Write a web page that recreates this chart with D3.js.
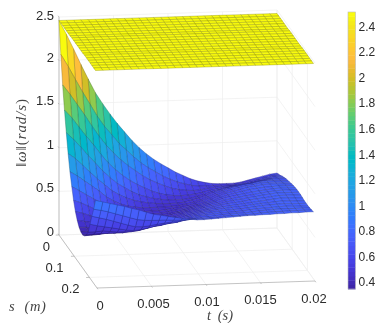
<!DOCTYPE html>
<html><head><meta charset="utf-8">
<style>html,body{margin:0;padding:0;background:#fff}svg{display:block;filter:blur(0.3px)}
text{font-family:"Liberation Sans",Arial,sans-serif;fill:#2b2b2b}
.m{font-family:"Liberation Serif",serif;font-style:italic;fill:#444}</style>
<script src="https://cdn.jsdelivr.net/npm/d3@7"></script></head><body>
<script>
const tTicks=[0,0.005,0.01,0.015,0.02];
const sTicks=[0,0.1,0.2];
const zTicks=[0,0.5,1,1.5,2,2.5];
const cbTicks=[0.4,0.6,0.8,1,1.2,1.4,1.6,1.8,2,2.2,2.4];
const cbTickLabels=["0.4","0.6","0.8","1","1.2","1.4","1.6","1.8","2","2.2","2.4"];
const tGrid=[0,0.00067,0.00133,0.002,0.00267,0.00333,0.004,0.00467,0.00533,0.006,0.00667,0.00733,0.008,0.00867,0.00933,0.01,0.01067,0.01133,0.012,0.01267,0.01333,0.014,0.01467,0.01533,0.016,0.01667,0.01733,0.018,0.01867,0.01933,0.02];
const sGrid=[0,0.012,0.024,0.036,0.048,0.06,0.072,0.084,0.096,0.108,0.12,0.132,0.144,0.156,0.168,0.18,0.192,0.204,0.216,0.228,0.24];
const upperSheet=[2.46,2.46,2.46,2.46,2.46,2.46,2.46,2.465,2.465,2.465,2.465,2.465,2.465,2.465,2.47,2.47,2.47,2.47,2.47,2.47,2.47];
// lower sheet: one row per s, one value per t
const lowerSheet=[
[2.46,2.30,2.13,1.95,1.78,1.62,1.49,1.37,1.26,1.16,1.06,.975,.90,.835,.78,.73,.68,.64,.60,.57,.55,.535,.53,.53,.53,.54,.56,.58,.60,.62,.63],
[2.10,1.96,1.81,1.66,1.52,1.38,1.26,1.16,1.06,.98,.90,.83,.77,.72,.67,.63,.595,.57,.55,.54,.535,.54,.54,.54,.545,.555,.575,.595,.615,.635,.645],
[1.78,1.67,1.55,1.43,1.30,1.18,1.07,.98,.90,.83,.77,.71,.66,.62,.585,.555,.535,.525,.52,.525,.54,.55,.555,.56,.565,.575,.595,.615,.635,.655,.66],
[1.52,1.43,1.32,1.21,1.11,1.00,.90,.82,.75,.69,.64,.60,.56,.53,.51,.50,.495,.50,.51,.525,.545,.56,.575,.585,.59,.60,.62,.64,.66,.68,.68],
[1.29,1.21,1.12,1.02,.93,.84,.76,.69,.64,.59,.55,.525,.505,.49,.48,.48,.48,.49,.51,.53,.56,.58,.60,.615,.625,.635,.655,.67,.685,.695,.695],
[1.08,1.02,.94,.86,.78,.71,.64,.59,.55,.52,.50,.485,.475,.47,.47,.47,.48,.50,.52,.545,.58,.605,.63,.645,.66,.67,.69,.70,.71,.71,.71],
[.90,.85,.79,.73,.67,.60,.55,.51,.485,.47,.46,.46,.46,.46,.465,.47,.485,.505,.53,.56,.595,.625,.65,.67,.69,.70,.715,.725,.725,.72,.72],
[.76,.71,.66,.61,.565,.52,.485,.46,.45,.44,.445,.45,.45,.46,.47,.48,.495,.52,.545,.575,.61,.64,.665,.685,.705,.715,.73,.735,.735,.73,.73],
[.63,.60,.56,.52,.49,.46,.44,.43,.43,.43,.44,.445,.45,.465,.48,.49,.51,.535,.56,.59,.625,.655,.675,.695,.715,.725,.74,.745,.745,.74,.74],
[.53,.51,.48,.46,.44,.43,.42,.42,.42,.43,.44,.45,.46,.475,.49,.51,.53,.555,.58,.605,.64,.665,.685,.70,.72,.73,.74,.745,.75,.75,.75],
[.46,.445,.43,.42,.41,.41,.41,.42,.43,.44,.45,.46,.47,.49,.51,.53,.55,.575,.60,.625,.655,.675,.69,.705,.72,.73,.74,.75,.755,.755,.755],
[.41,.405,.40,.40,.40,.40,.41,.42,.44,.45,.46,.47,.485,.50,.53,.55,.57,.595,.62,.64,.665,.68,.695,.71,.72,.735,.745,.755,.76,.76,.76],
[.385,.385,.39,.395,.40,.41,.42,.43,.45,.46,.47,.48,.50,.52,.55,.57,.59,.615,.635,.655,.675,.69,.70,.715,.725,.74,.75,.76,.76,.76,.76],
[.38,.385,.39,.40,.41,.42,.43,.44,.46,.47,.485,.50,.52,.54,.57,.59,.61,.63,.65,.67,.685,.695,.705,.72,.73,.74,.75,.76,.76,.76,.76],
[.40,.405,.41,.42,.42,.43,.44,.455,.47,.49,.51,.52,.54,.56,.59,.61,.63,.65,.665,.68,.69,.70,.71,.72,.73,.74,.75,.76,.76,.755,.755],
[.44,.445,.45,.45,.45,.45,.46,.47,.49,.51,.53,.54,.56,.58,.61,.63,.65,.665,.68,.69,.70,.705,.715,.725,.735,.74,.75,.755,.755,.75,.75],
[.50,.50,.51,.50,.49,.49,.49,.50,.52,.54,.55,.57,.58,.60,.63,.65,.665,.68,.69,.70,.705,.71,.72,.73,.74,.745,.75,.755,.75,.75,.75],
[.62,.60,.585,.57,.555,.54,.53,.54,.555,.575,.59,.60,.61,.63,.65,.67,.68,.69,.70,.705,.71,.715,.725,.735,.74,.745,.75,.755,.75,.75,.75],
[.74,.72,.70,.675,.65,.625,.605,.60,.61,.625,.635,.645,.655,.665,.675,.685,.69,.70,.71,.715,.72,.72,.73,.74,.745,.75,.755,.755,.755,.755,.755],
[.85,.835,.815,.79,.765,.74,.715,.705,.70,.70,.70,.695,.695,.695,.70,.70,.705,.71,.72,.725,.725,.73,.735,.745,.75,.755,.755,.76,.76,.76,.76],
[.98,.96,.94,.92,.90,.875,.855,.825,.80,.785,.77,.755,.74,.73,.72,.72,.725,.73,.735,.74,.745,.75,.75,.755,.755,.76,.76,.765,.765,.77,.77]
];
const parula=[[.2422,.1504,.6603],[.2504,.165,.7076],[.2578,.1818,.7511],[.2647,.1978,.7952],[.2706,.2147,.8364],[.2751,.2342,.871],[.2783,.2559,.8991],[.2803,.2782,.9221],[.2813,.3006,.9414],[.281,.3228,.9579],[.2795,.3447,.9717],[.276,.3667,.9829],[.2699,.3892,.9906],[.2602,.4123,.9952],[.244,.4358,.9988],[.2206,.4603,.9973],[.1963,.4847,.9892],[.1834,.5074,.9798],[.1786,.5289,.9682],[.1764,.5499,.952],[.1687,.5703,.9359],[.154,.5902,.9218],[.146,.6091,.9079],[.138,.6276,.8973],[.1248,.6459,.8883],[.1113,.6635,.8763],[.0952,.6798,.8598],[.0689,.6948,.8394],[.0297,.7082,.8163],[.0036,.7203,.7917],[.0067,.7312,.766],[.0433,.7411,.7394],[.0964,.75,.712],[.1408,.7584,.6842],[.1717,.767,.6554],[.1938,.7758,.6251],[.2161,.7843,.5923],[.247,.7918,.5567],[.2906,.7973,.5188],[.3406,.8008,.4789],[.3909,.8029,.4354],[.4456,.8024,.3909],[.5044,.7993,.348],[.5616,.7942,.3045],[.6174,.7876,.2612],[.672,.7793,.2227],[.7242,.7698,.191],[.7738,.7598,.1646],[.8203,.7498,.1535],[.8634,.7406,.1596],[.9035,.733,.1774],[.9393,.7288,.21],[.9728,.7298,.2394],[.9956,.7434,.2371],[.997,.7659,.2199],[.9952,.7861,.1967],[.9892,.8086,.1758],[.9786,.8288,.1507],[.9764,.851,.1379],[.9626,.8705,.1309],[.9589,.8949,.1132],[.9598,.9218,.0948],[.9661,.9514,.0755],[.9763,.9831,.0538]];
const parulaCss=parula.map(c=>`rgb(${c.map(v=>Math.round(v*255)).join(",")})`);

const W=389,H=323;
const svg=d3.select("body").append("svg").attr("width",W).attr("height",H);
const x0=59,y0=235;
const tX=d3.scaleLinear().domain([0,0.02]).range([0,218]);
const tY=d3.scaleLinear().domain([0,0.02]).range([0,-7]);
const sX=d3.scaleLinear().domain([0,0.25]).range([0,38]);
const sY=d3.scaleLinear().domain([0,0.25]).range([0,53]);
const zY=d3.scaleLinear().domain([0,2.5]).range([0,-218]);
const px=(t,s)=>x0+tX(t)+sX(s);
const py=(t,s,z)=>y0+tY(t)+sY(s)+zY(z);
const color=d3.scaleQuantize().domain([0.345,2.472]).range(parulaCss);

const line3=(g,a,b,cls)=>g.append("line")
  .attr("x1",px(a[0],a[1])).attr("y1",py(a[0],a[1],a[2]))
  .attr("x2",px(b[0],b[1])).attr("y2",py(b[0],b[1],b[2]))
  .attr("stroke",cls.c).attr("stroke-width",cls.w);
const grid=svg.append("g"), gs={c:"#eeeeee",w:.7}, as={c:"#aaaaaa",w:.7};
const tMax=0.02,sMax=0.25,zMax=2.5;
tTicks.forEach(t=>{line3(grid,[t,0,0],[t,sMax,0],gs);line3(grid,[t,0,0],[t,0,zMax],gs);});
sTicks.forEach(s=>{line3(grid,[0,s,0],[tMax,s,0],gs);line3(grid,[tMax,s,0],[tMax,s,zMax],gs);});
zTicks.forEach(z=>{line3(grid,[0,0,z],[tMax,0,z],gs);line3(grid,[tMax,0,z],[tMax,sMax,z],gs);});
line3(grid,[0,0,0],[0,0,zMax],as);
line3(grid,[0,0,0],[0,sMax,0],as);
line3(grid,[0,sMax,0],[tMax,sMax,0],as);
const tl=0.0003, sl=0.006;
zTicks.forEach(z=>line3(grid,[0,0,z],[0,-sl,z],as));
sTicks.forEach(s=>line3(grid,[0,s,0],[-tl,s,0],as));
tTicks.forEach(t=>line3(grid,[t,sMax,0],[t,sMax+sl,0],as));

// surfaces: back to front for this viewpoint (s ascending, t descending)
const surf=svg.append("g");
function drawSheet(val){
  const cells=[];
  for(let i=0;i<sGrid.length-1;i++)for(let j=tGrid.length-2;j>=0;j--)cells.push([j,i]);
  surf.append("g").selectAll("path").data(cells).join("path")
   .attr("d",([j,i])=>{
     const q=[[j,i],[j+1,i],[j+1,i+1],[j,i+1]];
     return "M"+q.map(([a,b])=>px(tGrid[a],sGrid[b]).toFixed(2)+","+py(tGrid[a],sGrid[b],val(a,b)).toFixed(2)).join("L")+"Z";})
   .attr("fill",([j,i])=>color(val(j,i)))
   .attr("stroke",([j,i])=>d3.interpolateRgb(color(val(j,i)),"#000")(.42))
   .attr("stroke-width",.4).attr("stroke-linejoin","round");
}
drawSheet((a,b)=>lowerSheet[b][a]);
drawSheet((a,b)=>upperSheet[b]);

const lab=svg.append("g").attr("font-size",13);
zTicks.forEach(z=>lab.append("text").attr("x",54).attr("y",py(0,0,z)+(z===2.5?3:1)).attr("text-anchor","end").text(z));
[[0,"0",50,251],[0.1,"0.1",63.5,272],[0.2,"0.2",79.5,293]].forEach(d=>lab.append("text").attr("x",d[2]).attr("y",d[3]).attr("text-anchor","end").text(d[1]));
tTicks.forEach(t=>lab.append("text").attr("x",px(t,sMax)+3-200*t).attr("y",py(t,sMax,0)+21.5).attr("text-anchor","middle").text(t));
svg.append("text").attr("class","m").attr("x",9).attr("y",311).attr("font-size",14.5).style("word-spacing","5px").style("letter-spacing","0.6px").text("s (m)");
svg.append("text").attr("class","m").attr("x",207).attr("y",320).attr("font-size",14.5).style("word-spacing","3px").text("t (s)");
svg.append("text").attr("class","m").attr("transform","translate(26,167) rotate(-90)").attr("font-size",15).style("letter-spacing","0.9px")
  .html('<tspan font-style="normal">‖</tspan>ω<tspan font-style="normal">‖(</tspan>rad/s<tspan font-style="normal">)</tspan>');

const cbY=d3.scaleLinear().domain([0.345,2.51]).range([289,12]);
const cb=svg.append("g");
const band=(2.51-0.345)/parulaCss.length;
cb.selectAll("rect").data(parulaCss).join("rect")
 .attr("x",348).attr("width",7.5)
 .attr("y",(c,i)=>cbY(0.345+band*(i+1))).attr("height",(c,i)=>cbY(0.345+band*i)-cbY(0.345+band*(i+1))+.4)
 .attr("fill",c=>c);
cb.append("rect").attr("x",348).attr("y",12).attr("width",7.5).attr("height",277).attr("fill","none").attr("stroke","#bbb").attr("stroke-width",.6);
cbTicks.forEach((v,i)=>{
  cb.append("text").attr("x",358.5).attr("y",cbY(v)+4.5).attr("font-size",12).text(cbTickLabels[i]);
});
</script></body></html>
